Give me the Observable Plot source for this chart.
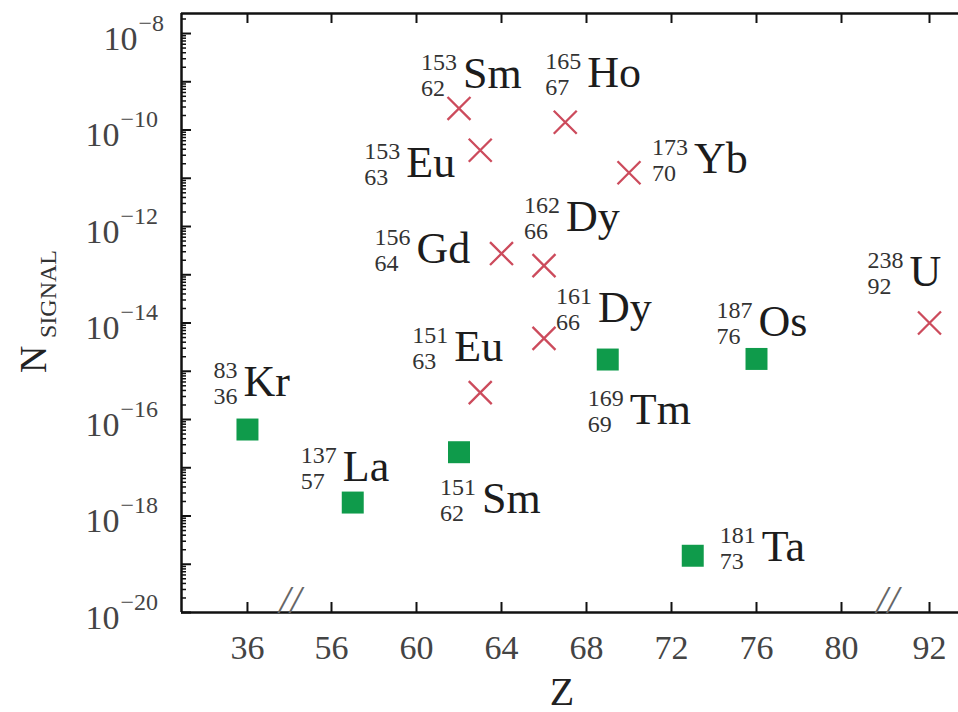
<!DOCTYPE html>
<html><head><meta charset="utf-8">
<script src="https://cdn.jsdelivr.net/npm/d3@7"></script>
<script src="https://cdn.jsdelivr.net/npm/@observablehq/plot@0.6"></script>
<style>body{margin:0;background:#fff;} svg{display:block}</style>
</head><body><div id="chart"></div>
<script>
// ---- data ----
const symbols       = ["Sm","Ho","Eu","Yb","Gd","Dy","Dy","Eu","U","Kr","La","Sm","Tm","Os","Ta"];
const massNumbers   = [153,165,153,173,156,162,161,151,238,83,137,151,169,187,181];
const atomicNumbers = [62,67,63,70,64,66,66,63,92,36,57,62,69,76,73];
const nSignal       = [2.8e-10,1.45e-10,3.8e-11,1.3e-11,2.75e-13,1.55e-13,4.8e-15,3.6e-16,1.0e-14,6.2e-17,1.9e-18,2.1e-17,1.75e-15,1.8e-15,1.5e-19];
const markerKind    = ["x","x","x","x","x","x","x","x","x","sq","sq","sq","sq","sq","sq"];
const xTicks = [36,56,60,64,68,72,76,80,92];
const yLabelExponents = [-8,-10,-12,-14,-16,-18,-20];
const axisBreaks = [46.2, 86.3];

// ---- layout (pixels) ----
const W = 958, H = 712, mL = 181, mR = 0, mT = 13, mB = 100;
const plotW = W - mL - mR, plotH = H - mT - mB;
const xDomain = [20.3, 56, 80, 92, 95.95];
const xRange  = [181, 331, 841, 929, 958];
const yMin = 1e-20, yTop = 10 ** -7.585;
const labelOffsets = [[-38,-20],[-20,-35],[-116,27],[23,0],[-127,9],[-20,-35],[12,-16],[-68,-32],[-62,-37],
                      [-34,-34],[-52,-22],[-19,61],[-20,64],[-40,-23],[27,5]];
const FONT = "Liberation Serif";
const numFont = 24, symFont = 44, digitW = 12;

const isotopes = symbols.map((s, i) => ({sym: s, A: massNumbers[i], Z: atomicNumbers[i], n: nSignal[i], kind: markerKind[i]}));

const majors = d3.range(-20, -7).map(e => 10 ** e);
const minors = [];
for (let e = -20; e <= -8; e++) for (let m = 2; m <= 9; m++) { const v = m * 10 ** e; if (v <= yTop) minors.push(v); }

const labelMarks = isotopes.flatMap((d, i) => {
  const [lx, ly] = labelOffsets[i];
  const blockW = String(d.A).length * digitW;
  const common = {x: "Z", y: "n", textAnchor: "start", lineAnchor: "bottom", fill: "#1c1c1c", fontFamily: FONT};
  return [
    Plot.text([d], {...common, text: "A", dx: lx, dy: ly - 18, fontSize: numFont, fill: "#333"}),
    Plot.text([d], {...common, text: "Z", dx: lx, dy: ly + 8, fontSize: numFont, fill: "#333"}),
    Plot.text([d], {...common, text: "sym", dx: lx + blockW + 6, dy: ly, fontSize: symFont})
  ];
});

const chart = Plot.plot({
  width: W, height: H,
  marginLeft: mL, marginRight: mR, marginTop: mT, marginBottom: mB,
  style: {fontFamily: FONT, background: "#fff"},
  x: {type: "linear", domain: xDomain, range: xRange, axis: null},
  y: {type: "log", domain: [yMin, yTop], axis: null},
  marks: [
    // frame
    Plot.ruleY([yMin], {stroke: "#111", strokeWidth: 2.5}),
    Plot.ruleY([yTop], {stroke: "#111", strokeWidth: 2.5}),
    Plot.ruleX([xDomain[0]], {stroke: "#111", strokeWidth: 2.5}),
    // y ticks
    Plot.ruleY(majors, {insetRight: plotW - 10, stroke: "#111", strokeWidth: 2}),
    Plot.ruleY(minors, {insetRight: plotW - 5, stroke: "#111", strokeWidth: 1.5}),
    // x ticks (bottom and top)
    Plot.ruleX(xTicks, {insetTop: plotH - 10, stroke: "#111", strokeWidth: 2}),
    Plot.ruleX(xTicks, {insetBottom: plotH - 10, stroke: "#111", strokeWidth: 2}),
    // axis breaks
    Plot.text(axisBreaks, {x: d => d, frameAnchor: "bottom", text: () => "//", fontSize: 40, fill: "#666", fontStyle: "italic", fontFamily: FONT}),
    // x tick labels
    Plot.text(xTicks, {x: d => d, frameAnchor: "bottom", text: d => String(d), dy: 46, lineAnchor: "bottom", fontSize: 34, fill: "#444", fontFamily: FONT}),
    // y tick labels
    Plot.text(yLabelExponents.filter(e => e <= -10), {y: e => 10 ** e, frameAnchor: "left", text: () => "10", textAnchor: "end", dx: -62, dy: 16, lineAnchor: "bottom", fontSize: 34, fill: "#444", fontFamily: FONT}),
    Plot.text(yLabelExponents.filter(e => e > -10), {y: e => 10 ** e, frameAnchor: "left", text: () => "10", textAnchor: "end", dx: -44, dy: 16, lineAnchor: "bottom", fontSize: 34, fill: "#444", fontFamily: FONT}),
    Plot.text(yLabelExponents.filter(e => e <= -10), {y: e => 10 ** e, frameAnchor: "left", text: e => "\u2212" + (-e), textAnchor: "start", dx: -61, dy: -3, lineAnchor: "bottom", fontSize: 24, fill: "#444", fontFamily: FONT}),
    Plot.text(yLabelExponents.filter(e => e > -10), {y: e => 10 ** e, frameAnchor: "left", text: e => "\u2212" + (-e), textAnchor: "start", dx: -43, dy: -3, lineAnchor: "bottom", fontSize: 24, fill: "#444", fontFamily: FONT}),
    // axis titles
    Plot.text(["Z"], {frameAnchor: "bottom", text: d => d, dx: -8, dy: 92, lineAnchor: "bottom", fontSize: 40, fill: "#222", fontFamily: FONT}),
    Plot.text(["N"], {frameAnchor: "left", text: d => d, rotate: -90, textAnchor: "start", lineAnchor: "bottom", dx: -136, dy: 60, fontSize: 38, fill: "#222", fontFamily: FONT}),
    Plot.text(["SIGNAL"], {frameAnchor: "left", text: d => d, rotate: -90, textAnchor: "start", lineAnchor: "bottom", dx: -126, dy: 25, fontSize: 24, fill: "#333", fontFamily: FONT}),
    // points
    Plot.dot(isotopes.filter(d => d.kind === "x"), {x: "Z", y: "n", symbol: "times", r: 10.5, stroke: "#cc4b5c", strokeWidth: 2.3}),
    Plot.dot(isotopes.filter(d => d.kind === "sq"), {x: "Z", y: "n", symbol: "square", r: 12.4, fill: "#0f9b4b", stroke: "none"}),
    ...labelMarks
  ]
});
document.getElementById("chart").appendChild(chart);
</script>
</body></html>
